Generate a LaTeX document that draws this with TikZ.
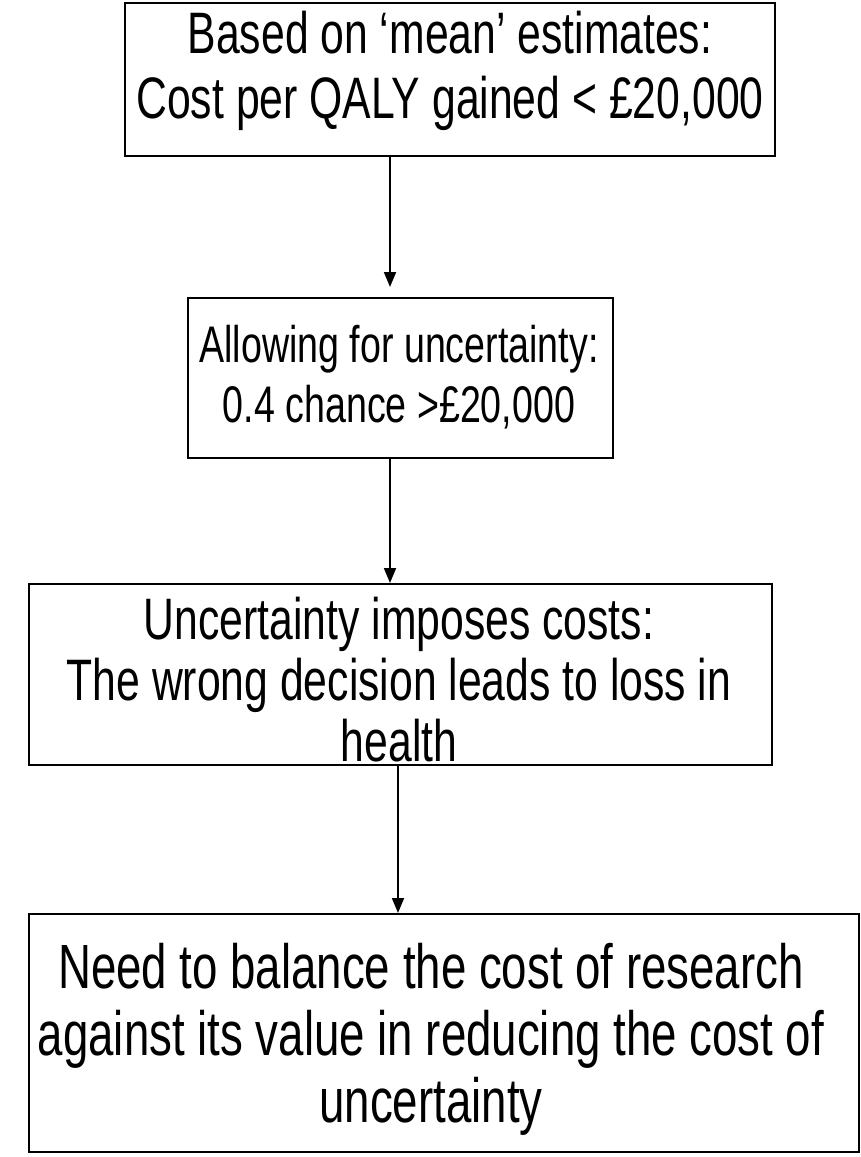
\documentclass[tikz,border=0pt]{standalone}
\usepackage{fontspec}
\setmainfont{Liberation Sans}[FakeStretch=0.73]
\usetikzlibrary{arrows.meta,calc}
\tikzset{
  frame/.style={draw=black, line width=1.8pt, inner sep=0pt, anchor=north west},
  txt/.style={align=center, inner sep=0pt, text=black},
  arr/.style={draw=black, line width=1.8pt, -{Triangle[length=15pt,width=12pt]}}
}
\begin{document}
\begin{tikzpicture}[x=1pt,y=-1pt]
\useasboundingbox (0,0) rectangle (860,1157);
\fill[white] (0,0) rectangle (860,1157);
% frames
\node[frame, minimum width=650pt, minimum height=153pt] (b1) at (124,2) {};
\node[frame, minimum width=425pt, minimum height=160pt] (b2) at (187,297) {};
\node[frame, minimum width=743pt, minimum height=181pt] (b3) at (28,583) {};
\node[frame, minimum width=830pt, minimum height=238pt] (b4) at (28,913) {};
% texts
\node[txt, font=\fontsize{58.5}{65}\selectfont] (t1) at (450,71) {Based on ‘mean’ estimates:\\Cost per QALY gained < £20,000};
\node[txt, font=\fontsize{51.5}{60}\selectfont] (t2) at (399,377) {Allowing for uncertainty:\\0.4 chance >£20,000};
\node[txt, font=\fontsize{58.5}{61}\selectfont] (t3) at (399,680) {Uncertainty imposes costs:\\The wrong decision leads to loss in\\health};
\node[txt, font=\fontsize{62.5}{67}\selectfont] (t4) at (431,1039) {Need to balance the cost of research\\against its value in reducing the cost of\\uncertainty};
% arrows
\coordinate (c1) at (390,0);
\coordinate (c3) at (398,0);
\coordinate (e1) at ([yshift=10pt]b2.north);
\draw[arr] (b1.south -| c1) -- (e1 -| c1);
\draw[arr] (b2.south -| c1) -- (b3.north -| c1);
\draw[arr] (b3.south -| c3) -- (b4.north -| c3);
\end{tikzpicture}
\end{document}
